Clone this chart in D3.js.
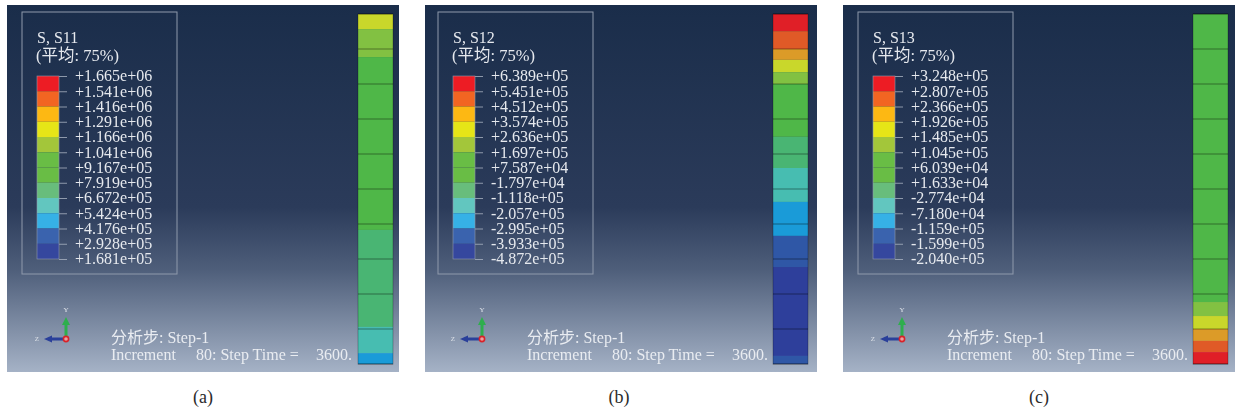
<!DOCTYPE html>
<html>
<head>
<meta charset="utf-8">
<script src="https://cdn.jsdelivr.net/npm/d3@7"></script>
<style>
html, body { margin: 0; background: #fff; }
svg { display: block; }
text { font-family: "Liberation Serif", "Noto Sans CJK SC", serif; }
</style>
</head>
<body>
<div id="chart"></div>
<script>
// contour band colours, top of the legend first
const legendColors = ["#ed1c24", "#f26522", "#fdb813", "#e6e517", "#a3c63a", "#69bd45", "#69bd45", "#68bd7c", "#62c6bf", "#36b1e6", "#3a63ae", "#35479e"];
const columnColors = ["#e01f27", "#e05a27", "#dc9b28", "#c9d72b", "#82c142", "#4fb748", "#4fb748", "#49b573", "#47bdb1", "#1a9bd8", "#2f57a6", "#2e3f9b"];

// legend labels for each panel
const labelsA = ["+1.665e+06", "+1.541e+06", "+1.416e+06", "+1.291e+06", "+1.166e+06", "+1.041e+06", "+9.167e+05", "+7.919e+05", "+6.672e+05", "+5.424e+05", "+4.176e+05", "+2.928e+05", "+1.681e+05"];
const labelsB = ["+6.389e+05", "+5.451e+05", "+4.512e+05", "+3.574e+05", "+2.636e+05", "+1.697e+05", "+7.587e+04", "-1.797e+04", "-1.118e+05", "-2.057e+05", "-2.995e+05", "-3.933e+05", "-4.872e+05"];
const labelsC = ["+3.248e+05", "+2.807e+05", "+2.366e+05", "+1.926e+05", "+1.485e+05", "+1.045e+05", "+6.039e+04", "+1.633e+04", "-2.774e+04", "-7.180e+04", "-1.159e+05", "-1.599e+05", "-2.040e+05"];

// band index along the column, and where each band ends (in elements, 0 to 10)
const bandsA = [3, 4, 5, 7, 8, 9];
const endsA = [0.43, 1.23, 6.17, 8.94, 9.69, 10];
const bandsB = [0, 1, 2, 3, 4, 5, 7, 8, 9, 10, 11, 10];
const endsB = [0.49, 1.0, 1.31, 1.66, 2.0, 3.51, 4.4, 5.37, 6.34, 7.23, 9.77, 10];
const bandsC = [5, 4, 3, 2, 1, 0];
const endsC = [8.23, 8.63, 9.0, 9.34, 9.66, 10];

const elements = d3.range(0, 11);

const panelNames = ["S, S11", "S, S12", "S, S13"];
const captions = ["(a)", "(b)", "(c)"];
const panelLabels = [labelsA, labelsB, labelsC];
const panelBands = [bandsA, bandsB, bandsC];
const panelEnds = [endsA, endsB, endsC];
const panelOffsets = [0, 416, 836];

const width = 1236;
const height = 413;

const svg = d3.select("#chart").append("svg")
    .attr("width", width)
    .attr("height", height);

const defs = svg.append("defs");
const bg = defs.append("linearGradient")
    .attr("id", "bg")
    .attr("x1", 0).attr("x2", 0).attr("y1", 0).attr("y2", 1);
[[0, "#1a2d4a"], [0.55, "#2b3b5a"], [0.72, "#4e5e7a"], [1, "#a5b2c6"]].forEach(s => {
    bg.append("stop").attr("offset", s[0]).attr("stop-color", s[1]);
});
defs.append("filter").attr("id", "soft")
    .append("feGaussianBlur").attr("stdDeviation", 0.4);

// position along the column -> pixels
const yColumn = d3.scaleLinear().domain([0, 10]).range([14, 364]);

panelNames.forEach((name, i) => {
    const g = svg.append("g").attr("transform", `translate(${panelOffsets[i]},0)`);
    const labels = panelLabels[i];

    g.append("rect")
        .attr("x", i == 1 ? 9 : 7)
        .attr("y", 5)
        .attr("width", 392)
        .attr("height", 367)
        .attr("fill", "url(#bg)");

    // legend box
    g.append("rect")
        .attr("x", 22).attr("y", 12)
        .attr("width", 155).attr("height", 262)
        .attr("fill", "none")
        .attr("stroke", "#8f9aac")
        .attr("stroke-width", 1);

    const soft = g.append("g").attr("filter", "url(#soft)");
    soft.append("text").attr("x", 37).attr("y", 43)
        .attr("fill", "#e6e9ee").style("font-size", "16px").text(name);
    soft.append("text").attr("x", 36).attr("y", 61)
        .attr("fill", "#e6e9ee").style("font-size", "16.5px").text("(平均: 75%)");

    // colour legend
    const yBand = d3.scaleBand().domain(d3.range(legendColors.length)).range([76, 259]);
    g.selectAll(".swatch")
        .data(legendColors)
        .enter()
        .append("rect")
        .attr("class", "swatch")
        .attr("x", 37)
        .attr("y", (d, k) => yBand(k))
        .attr("width", 22)
        .attr("height", yBand.bandwidth())
        .attr("fill", d => d);
    g.append("rect")
        .attr("x", 37).attr("y", 76).attr("width", 22).attr("height", 183)
        .attr("fill", "none").attr("stroke", "#8f9aac").attr("stroke-width", 0.6);

    const yLabel = d3.scalePoint().domain(labels).range([76, 259]);
    const axis = soft.append("g")
        .attr("transform", "translate(59,0)")
        .call(d3.axisRight(yLabel).tickSize(8).tickPadding(8));
    axis.select(".domain").remove();
    axis.selectAll("line").attr("stroke", "#aab3c1").attr("stroke-width", 0.8);
    axis.selectAll("text")
        .attr("fill", "#e6e9ee")
        .attr("dy", "0.3em")
        .style("font-size", "16px")
        .style("font-family", "'Liberation Serif', serif");

    // stress column
    const col = g.append("g").attr("transform", `translate(${i == 0 ? 358 : 357},0)`);
    const starts = [0].concat(panelEnds[i].slice(0, -1));
    col.selectAll(".seg")
        .data(panelBands[i])
        .enter()
        .append("rect")
        .attr("class", "seg")
        .attr("x", 0)
        .attr("y", (d, k) => yColumn(starts[k]))
        .attr("width", 35)
        .attr("height", (d, k) => yColumn(panelEnds[i][k]) - yColumn(starts[k]))
        .attr("fill", d => columnColors[d]);

    // element edges
    col.selectAll(".edge")
        .data(elements)
        .enter()
        .append("line")
        .attr("class", "edge")
        .attr("x1", 0).attr("x2", 35)
        .attr("y1", d => yColumn(d))
        .attr("y2", d => yColumn(d))
        .attr("stroke", "#000")
        .attr("stroke-opacity", 0.4)
        .attr("stroke-width", 1);
    col.append("rect")
        .attr("x", 0).attr("y", 14).attr("width", 35).attr("height", 350)
        .attr("fill", "none")
        .attr("stroke", "#000").attr("stroke-opacity", 0.25).attr("stroke-width", 1);

    // axis triad
    const triad = g.append("g").attr("filter", "url(#soft)");
    triad.append("line").attr("x1", 66).attr("x2", 66).attr("y1", 338).attr("y2", 322)
        .attr("stroke", "#2fae4e").attr("stroke-width", 3);
    triad.append("path").attr("d", "M66,317 L70,325 L62,325 Z").attr("fill", "#2fae4e");
    triad.append("line").attr("x1", 66).attr("x2", 50).attr("y1", 339).attr("y2", 339)
        .attr("stroke", "#2a3f9a").attr("stroke-width", 3);
    triad.append("path").attr("d", "M44,339 L52,335.5 L52,342.5 Z").attr("fill", "#2a3f9a");
    triad.append("circle").attr("cx", 66).attr("cy", 339).attr("r", 2.6)
        .attr("fill", "#e8a0a0").attr("stroke", "#d8232a").attr("stroke-width", 1.6);
    soft.append("text").attr("x", 66).attr("y", 312).attr("text-anchor", "middle")
        .attr("fill", "#dfe3ea").style("font-size", "7px").text("Y");
    soft.append("text").attr("x", 37).attr("y", 341).attr("text-anchor", "middle")
        .attr("fill", "#dfe3ea").style("font-size", "7px").text("Z");

    // step text
    soft.append("text").attr("x", 111).attr("y", 343)
        .attr("fill", "#e9ecf1").style("font-size", "16px").text("分析步: Step-1");
    soft.append("text").attr("x", 111).attr("y", 360)
        .attr("fill", "#e9ecf1").style("font-size", "16px").text("Increment");
    soft.append("text").attr("x", 196).attr("y", 360)
        .attr("fill", "#e9ecf1").style("font-size", "16px").text("80: Step Time =");
    soft.append("text").attr("x", 316).attr("y", 360)
        .attr("fill", "#e9ecf1").style("font-size", "16px").text("3600.");

    g.append("text").attr("x", 203).attr("y", 403).attr("text-anchor", "middle")
        .attr("fill", "#2b2b2b").style("font-size", "18px").text(captions[i]);
});
</script>
</body>
</html>
